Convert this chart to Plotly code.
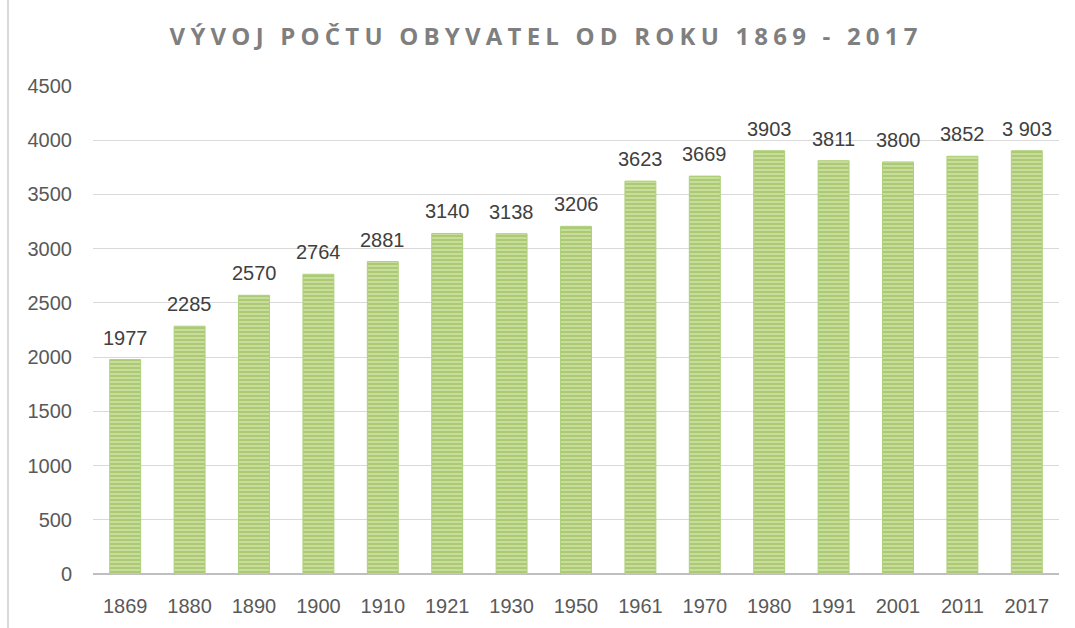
import plotly.graph_objects as go

years = ["1869", "1880", "1890", "1900", "1910", "1921", "1930", "1950",
         "1961", "1970", "1980", "1991", "2001", "2011", "2017"]
population = [1977, 2285, 2570, 2764, 2881, 3140, 3138, 3206,
              3623, 3669, 3903, 3811, 3800, 3852, 3903]
labels = ["1977", "2285", "2570", "2764", "2881", "3140", "3138", "3206",
          "3623", "3669", "3903", "3811", "3800", "3852", "3 903"]
title_text = "VÝVOJ POČTU OBYVATEL OD ROKU 1869 - 2017"

label_font = dict(family="Liberation Sans, Arial", size=20, color="#404040")
tick_font = dict(family="Liberation Sans, Arial", size=20, color="#595959")

fig = go.Figure(go.Bar(
    x=years, y=population,
    marker=dict(color="#c8dd9c",
                line=dict(color="#add07a", width=1),
                pattern=dict(shape="-", fgcolor="#8fb74a", size=4, solidity=0.5)),
    hoverinfo="x+y",
))

annotations = [dict(x=i, y=val, text=lab, showarrow=False, xref="x", yref="y",
                    yanchor="bottom", yshift=9, font=label_font)
               for i, (val, lab) in enumerate(zip(population, labels))]

fig.update_layout(
    width=1075, height=628,
    margin=dict(l=93, r=16, t=86, b=54),
    plot_bgcolor="white", paper_bgcolor="white",
    bargap=0.52, showlegend=False,
    title=dict(text=title_text, x=0.508, xanchor="center", y=0.942, yanchor="middle",
               font=dict(family="Open Sans, Liberation Sans", size=24, color="#7f7f7f",
                         weight="bold")),
    xaxis=dict(type="category", categoryorder="array", categoryarray=years,
               showline=False, showgrid=False, ticks="",
               ticklabelstandoff=18, tickfont=tick_font),
    yaxis=dict(range=[0, 4500], dtick=500, showgrid=True, gridcolor="#d9d9d9",
               gridwidth=1, zeroline=True, zerolinecolor="#bfbfbf", zerolinewidth=2,
               ticks="", ticklabelstandoff=20, tickfont=tick_font),
    annotations=annotations,
    shapes=[dict(type="line", xref="paper", yref="paper", x0=-0.088, x1=-0.088,
                 y0=-0.12, y1=1.2, line=dict(color="#d9d9d9", width=2))],
)

post = """
document.body.style.margin = '0';
var t = document.querySelector('.gtitle');
if (t) { t.style.letterSpacing = '5.2px'; }
"""
fig.write_html("out.html", post_script=post, config={"displayModeBar": False})
